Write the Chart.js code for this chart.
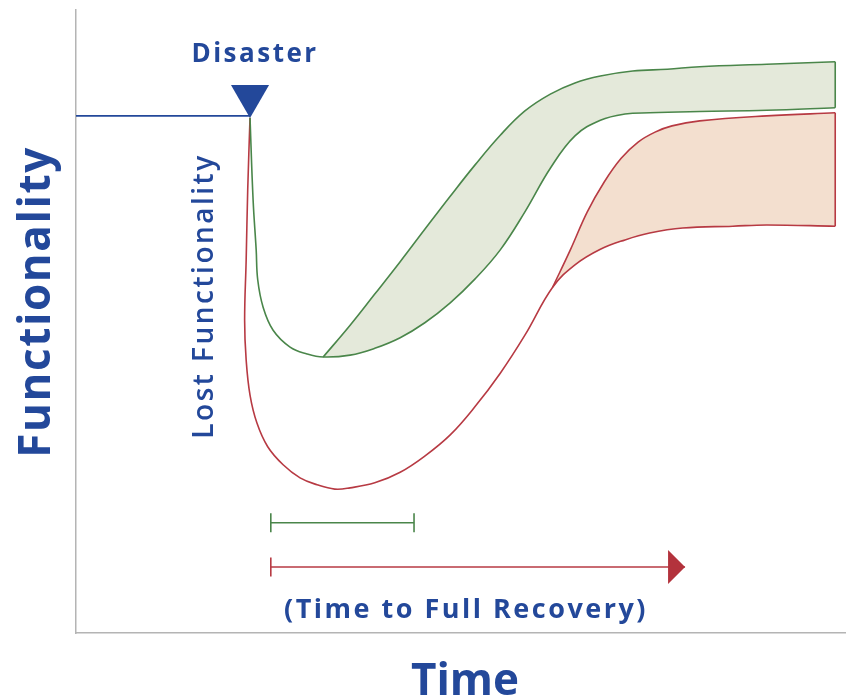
<!DOCTYPE html>
<html>
<head>
<meta charset="utf-8">
<script src="https://cdn.jsdelivr.net/npm/chart.js@4.4.1/dist/chart.umd.min.js"></script>
<style>
  body { margin: 0; background: #fff; }
  #wrap { width: 846px; height: 700px; }
</style>
</head>
<body>
<div id="wrap"><canvas id="chart" width="846" height="700"></canvas></div>
<script>
// Time runs 0-100 across the axis, functionality 0-100 up the axis

// Faster recovery (green band)
const greenLowTime = [22.6, 23.0, 23.4, 23.6, 24.3, 25.6, 27.8, 30.0, 32.1, 35.6, 38.8, 42.1, 45.3, 48.6, 51.8, 55.1, 58.3, 61.6, 64.8, 68.1, 71.3, 74.5, 81.0, 89.7, 98.6];
const greenLowFunc = [82.7, 69.5, 61.5, 56.7, 52.3, 48.6, 45.9, 44.8, 44.3, 44.6, 45.7, 47.4, 49.8, 53.0, 56.8, 61.5, 67.6, 74.6, 79.8, 82.3, 83.3, 83.5, 83.7, 83.9, 84.3];
const greenHighTime = [32.1, 35.6, 38.8, 42.1, 45.3, 48.6, 51.8, 55.1, 58.3, 61.6, 64.8, 68.1, 72.3, 76.8, 81.0, 89.7, 98.6];
const greenHighFunc = [44.3, 49.4, 54.4, 59.6, 64.8, 70.1, 75.1, 79.9, 83.8, 86.5, 88.3, 89.4, 90.2, 90.5, 90.9, 91.3, 91.7];

// Slower recovery (red band)
const redLowTime = [22.6, 22.3, 22.1, 21.9, 22.1, 22.6, 23.5, 24.9, 26.9, 29.1, 31.3, 33.6, 35.6, 38.8, 42.1, 45.3, 48.6, 51.8, 55.1, 58.3, 61.9, 64.8, 68.1, 71.3, 74.5, 78.8, 85.3, 89.7, 98.6];
const redLowFunc = [82.7, 71.1, 59.9, 50.2, 43.8, 38.2, 33.7, 29.9, 27.0, 24.9, 23.8, 23.1, 23.3, 24.1, 25.8, 28.4, 31.8, 36.3, 41.7, 47.8, 55.5, 59.1, 61.6, 63.1, 64.2, 65.0, 65.3, 65.5, 65.3];
const redHighTime = [61.9, 64.2, 66.4, 68.6, 70.8, 73.0, 75.2, 77.4, 81.0, 89.7, 98.6];
const redHighFunc = [55.5, 61.5, 67.6, 72.4, 76.2, 78.8, 80.4, 81.4, 82.2, 83.0, 83.5];

// Pre-disaster level and disaster moment
const baselineTime = [0, 22.6];
const baselineFunc = [83.0, 83.0];
const disasterTime = [22.6];
const disasterFunc = [86.2];

// Recovery time spans
const greenSpanTime = [25.3, 43.9];
const greenSpanFunc = [17.7, 17.7];
const redSpanTime = [25.3, 79.1];
const redSpanFunc = [10.6, 10.6];

const BLUE = '#23489a';
const GREEN = '#4a864a';
const GREEN_FILL = '#e4e9da';
const RED = '#b73a43';
const RED_FILL = '#f3dfcf';

function zip(xs, ys) {
    return xs.map((x, i) => ({ x: x, y: ys[i] }));
}

function curve(xs, ys, color, extra) {
    return Object.assign({
        data: zip(xs, ys),
        borderColor: color,
        borderWidth: 1.6,
        pointRadius: 0,
        tension: 0.4,
        fill: false
    }, extra || {});
}

// Labels and the arrow head
const annotations = {
    id: 'annotations',
    afterDatasetsDraw(chart) {
        const ctx = chart.ctx;
        ctx.save();

        // arrow head at the end of the red span
        const arrow = chart.getDatasetMeta(9).data;
        const tip = arrow[arrow.length - 1];
        ctx.fillStyle = '#b3323c';
        ctx.beginPath();
        ctx.moveTo(tip.x, tip.y);
        ctx.lineTo(tip.x - 17, tip.y - 17);
        ctx.lineTo(tip.x - 17, tip.y + 17);
        ctx.closePath();
        ctx.fill();

        ctx.fillStyle = BLUE;
        ctx.textAlign = 'center';
        ctx.textBaseline = 'alphabetic';

        ctx.letterSpacing = '2.5px';
        ctx.font = 'bold 26px "Open Sans"';
        ctx.fillText('Disaster', 255, 62);

        ctx.letterSpacing = '2.5px';
        ctx.font = 'bold 27px "Open Sans"';
        ctx.fillText('(Time to Full Recovery)', 466, 618);

        ctx.letterSpacing = '0px';
        ctx.font = 'bold 44px "Open Sans"';
        ctx.fillText('Time', 465, 695);

        ctx.save();
        ctx.translate(50, 302);
        ctx.rotate(-Math.PI / 2);
        ctx.letterSpacing = '1.6px';
        ctx.fillText('Functionality', 0, 0);
        ctx.restore();

        ctx.save();
        ctx.translate(213, 296);
        ctx.rotate(-Math.PI / 2);
        ctx.letterSpacing = '2.5px';
        ctx.font = '600 28px "Open Sans"';
        ctx.fillText('Lost Functionality', 0, 0);
        ctx.restore();

        ctx.restore();
    }
};

const chart = new Chart(document.getElementById('chart').getContext('2d'), {
    type: 'line',
    data: {
        datasets: [
            curve(greenLowTime, greenLowFunc, GREEN),
            curve(greenHighTime, greenHighFunc, GREEN, { fill: 0, backgroundColor: GREEN_FILL }),
            curve(redLowTime, redLowFunc, RED),
            curve(redHighTime, redHighFunc, RED, { fill: 2, backgroundColor: RED_FILL }),
            curve([98.6, 98.6], [91.7, 84.3], GREEN, { tension: 0 }),
            curve([98.6, 98.6], [83.5, 65.3], RED, { tension: 0 }),
            curve(baselineTime, baselineFunc, BLUE, { tension: 0 }),
            {
                data: zip(disasterTime, disasterFunc),
                showLine: false,
                pointStyle: 'triangle',
                pointRotation: 180,
                pointRadius: 22,
                pointBackgroundColor: BLUE,
                pointBorderColor: BLUE,
                pointBorderWidth: 0
            },
            curve(greenSpanTime, greenSpanFunc, GREEN, {
                tension: 0,
                pointStyle: 'line',
                pointRotation: 90,
                pointRadius: 9.5,
                pointBorderColor: GREEN,
                pointBorderWidth: 1.6
            }),
            curve(redSpanTime, redSpanFunc, RED, {
                tension: 0,
                pointStyle: 'line',
                pointRotation: 90,
                pointRadius: [9.5, 0],
                pointBorderColor: RED,
                pointBorderWidth: 1.6
            })
        ]
    },
    options: {
        responsive: false,
        animation: false,
        layout: {
            autoPadding: false,
            padding: { left: 76, top: 10, right: 0, bottom: 67 }
        },
        scales: {
            x: {
                type: 'linear',
                min: 0,
                max: 100,
                grid: { display: false, drawTicks: false },
                ticks: { display: false },
                border: { display: true, color: '#b4b4b4', width: 1.5 }
            },
            y: {
                type: 'linear',
                min: 0,
                max: 100,
                grid: { display: false, drawTicks: false },
                ticks: { display: false },
                border: { display: true, color: '#b4b4b4', width: 1.5 }
            }
        },
        plugins: {
            legend: { display: false },
            tooltip: { enabled: false },
            filler: { drawTime: 'beforeDatasetsDraw' }
        }
    },
    plugins: [annotations]
});
</script>
</body>
</html>
